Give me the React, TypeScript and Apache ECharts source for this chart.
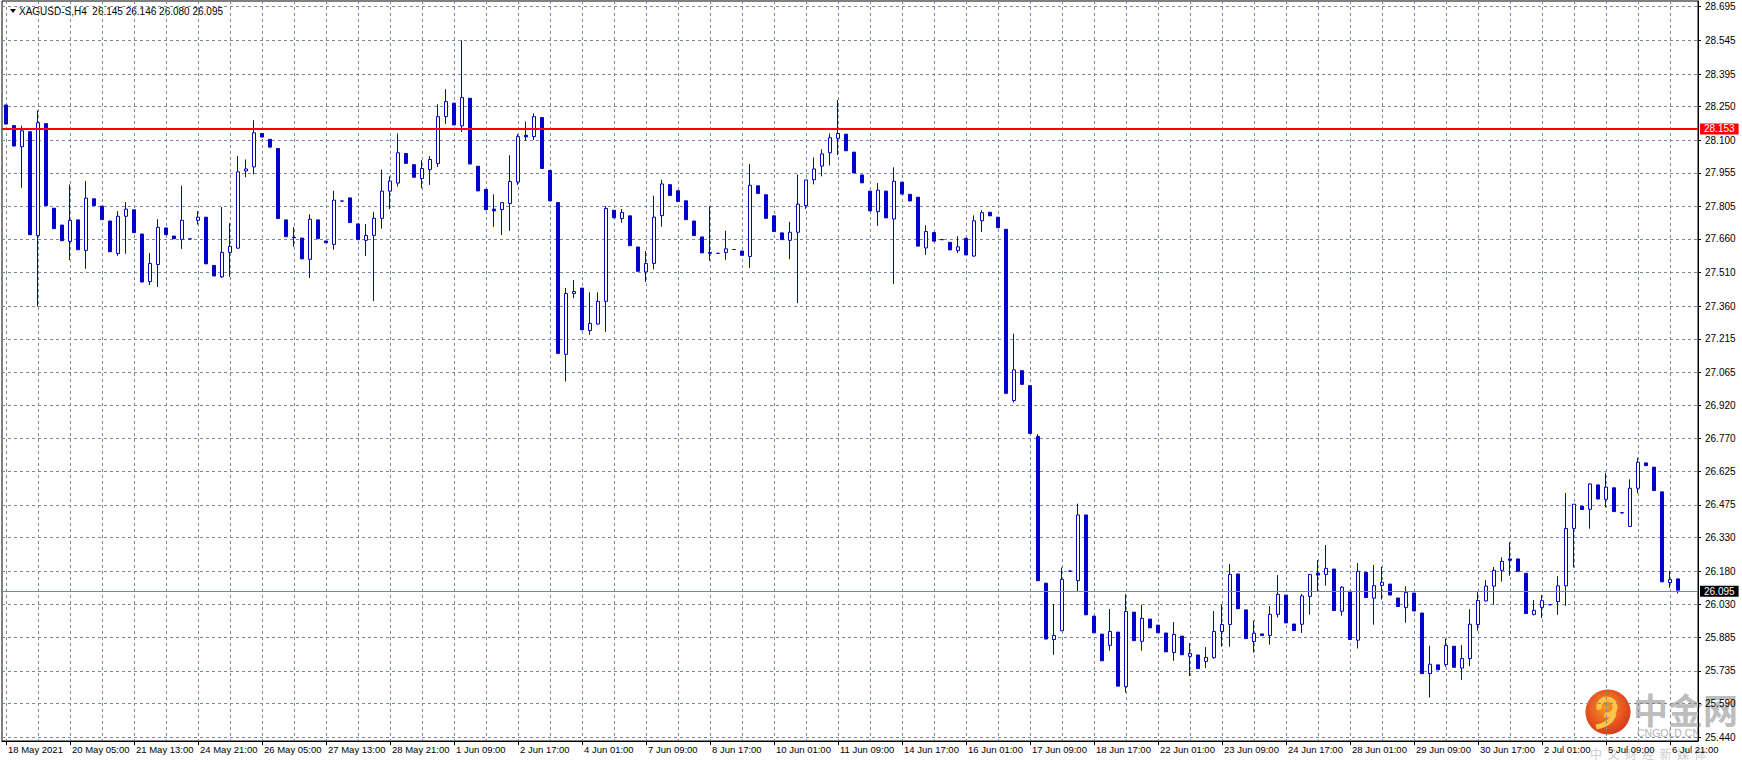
import React, { useEffect, useRef } from 'react';
import * as echarts from 'echarts';

const symbolName = 'XAGUSD-S,H4';

const tickLabels = [
  '18 May 2021', '20 May 05:00', '21 May 13:00', '24 May 21:00', '26 May 05:00', '27 May 13:00',
  '28 May 21:00', '1 Jun 09:00', '2 Jun 17:00', '4 Jun 01:00', '7 Jun 09:00', '8 Jun 17:00',
  '10 Jun 01:00', '11 Jun 09:00', '14 Jun 17:00', '16 Jun 01:00', '17 Jun 09:00', '18 Jun 17:00',
  '22 Jun 01:00', '23 Jun 09:00', '24 Jun 17:00', '28 Jun 01:00', '29 Jun 09:00', '30 Jun 17:00',
  '2 Jul 01:00', '5 Jul 09:00', '6 Jul 21:00',
];

const priceTicks = [
  28.695, 28.545, 28.395, 28.25, 28.1, 27.955, 27.805, 27.66, 27.51, 27.36, 27.215, 27.065,
  26.92, 26.77, 26.625, 26.475, 26.33, 26.18, 26.03, 25.885, 25.735, 25.59, 25.44,
];

const opens = [
  28.257, 28.165, 28.071, 28.138, 27.675, 28.174, 27.797, 27.722, 27.649, 27.745,
  27.609, 27.839, 27.806, 27.740, 27.595, 27.761, 27.790, 27.682, 27.470, 27.546,
  27.709, 27.673, 27.658, 27.660, 27.743, 27.757, 27.542, 27.491, 27.600, 27.619,
  27.963, 27.981, 28.130, 28.104, 28.063, 27.745, 27.667, 27.664, 27.569, 27.745,
  27.651, 27.636, 27.829, 27.843, 27.727, 27.654, 27.676, 27.752, 27.873, 27.909,
  28.041, 27.991, 27.929, 27.969, 27.996, 28.205, 28.265, 28.164, 28.287, 27.984,
  27.881, 27.793, 27.791, 27.818, 27.914, 28.122, 28.116, 28.201, 27.965, 27.822,
  27.146, 27.417, 27.441, 27.252, 27.281, 27.382, 27.788, 27.751, 27.763, 27.624,
  27.513, 27.551, 27.764, 27.902, 27.875, 27.830, 27.740, 27.669, 27.600, 27.596,
  27.600, 27.613, 27.606, 27.582, 27.897, 27.857, 27.763, 27.687, 27.654, 27.690,
  27.809, 27.924, 27.985, 28.044, 28.108, 28.127, 28.047, 27.945, 27.873, 27.782,
  27.873, 27.749, 27.913, 27.859, 27.846, 27.620, 27.689, 27.657, 27.645, 27.608,
  27.663, 27.584, 27.741, 27.779, 27.757, 27.703, 26.940, 27.073, 27.006, 26.780,
  26.126, 25.875, 25.914, 26.180, 26.137, 26.430, 25.979, 25.899, 25.849, 25.908,
  25.665, 25.997, 25.867, 25.966, 25.939, 25.904, 25.817, 25.890, 25.800, 25.806,
  25.777, 25.794, 25.911, 25.942, 26.167, 26.007, 25.866, 25.900, 25.893, 25.987,
  26.073, 25.944, 25.943, 26.067, 26.171, 26.165, 26.189, 26.001, 26.090, 25.872,
  26.174, 26.059, 26.116, 26.122, 26.060, 26.017, 26.082, 25.993, 25.723, 25.762,
  25.763, 25.845, 25.748, 25.790, 25.942, 26.047, 26.113, 26.183, 26.234, 26.234,
  26.170, 25.987, 26.018, 26.030, 26.044, 26.114, 26.370, 26.469, 26.455, 26.564,
  26.500, 26.551, 26.440, 26.379, 26.549, 26.662, 26.643, 26.533, 26.129, 26.145,
];

const highs = [
  28.257, 28.165, 28.165, 28.138, 28.232, 28.174, 27.797, 27.722, 27.903, 27.745,
  27.918, 27.839, 27.806, 27.740, 27.784, 27.824, 27.790, 27.682, 27.597, 27.748,
  27.709, 27.673, 27.897, 27.660, 27.784, 27.757, 27.542, 27.802, 27.730, 28.029,
  28.014, 28.189, 28.130, 28.104, 28.063, 27.745, 27.712, 27.664, 27.770, 27.745,
  27.651, 27.875, 27.830, 27.843, 27.727, 27.727, 27.781, 27.969, 27.939, 28.130,
  28.041, 27.991, 28.011, 28.029, 28.260, 28.327, 28.265, 28.545, 28.287, 27.984,
  27.881, 27.859, 27.822, 28.033, 28.127, 28.183, 28.220, 28.201, 27.965, 27.822,
  27.442, 27.477, 27.441, 27.422, 27.422, 27.806, 27.788, 27.793, 27.763, 27.624,
  27.606, 27.853, 27.924, 27.902, 27.875, 27.830, 27.740, 27.669, 27.806, 27.597,
  27.696, 27.614, 27.606, 27.994, 27.897, 27.857, 27.763, 27.687, 27.736, 27.947,
  27.923, 28.023, 28.059, 28.130, 28.280, 28.127, 28.047, 27.945, 27.873, 27.909,
  27.873, 27.979, 27.913, 27.859, 27.846, 27.721, 27.689, 27.657, 27.645, 27.672,
  27.663, 27.765, 27.788, 27.779, 27.757, 27.703, 27.238, 27.073, 27.006, 26.790,
  26.126, 26.033, 26.196, 26.180, 26.480, 26.430, 25.979, 25.899, 26.011, 25.908,
  26.077, 25.997, 26.030, 25.966, 25.939, 25.904, 25.953, 25.890, 25.859, 25.806,
  25.841, 26.002, 26.030, 26.211, 26.167, 26.007, 25.959, 25.900, 26.024, 26.162,
  26.073, 25.944, 26.078, 26.165, 26.229, 26.296, 26.189, 26.113, 26.090, 26.216,
  26.174, 26.207, 26.199, 26.122, 26.060, 26.112, 26.082, 25.993, 25.847, 25.762,
  25.879, 25.845, 25.850, 26.010, 26.090, 26.140, 26.198, 26.241, 26.308, 26.234,
  26.170, 26.051, 26.073, 26.030, 26.157, 26.528, 26.478, 26.469, 26.571, 26.564,
  26.618, 26.551, 26.441, 26.589, 26.685, 26.662, 26.643, 26.533, 26.181, 26.146,
];

const lows = [
  28.172, 28.074, 27.888, 27.679, 27.359, 27.809, 27.706, 27.652, 27.566, 27.612,
  27.527, 27.809, 27.746, 27.603, 27.585, 27.594, 27.688, 27.468, 27.455, 27.446,
  27.679, 27.661, 27.616, 27.660, 27.724, 27.549, 27.495, 27.486, 27.491, 27.616,
  27.935, 27.948, 28.114, 28.069, 27.751, 27.670, 27.625, 27.571, 27.486, 27.661,
  27.643, 27.612, 27.828, 27.733, 27.657, 27.584, 27.383, 27.706, 27.793, 27.894,
  27.997, 27.935, 27.886, 27.901, 27.981, 28.173, 28.168, 28.137, 27.994, 27.874,
  27.790, 27.714, 27.678, 27.696, 27.901, 28.098, 28.101, 27.974, 27.830, 27.150,
  27.025, 27.396, 27.255, 27.233, 27.278, 27.246, 27.754, 27.732, 27.630, 27.516,
  27.468, 27.525, 27.715, 27.854, 27.827, 27.746, 27.675, 27.598, 27.563, 27.595,
  27.567, 27.612, 27.587, 27.531, 27.863, 27.752, 27.693, 27.657, 27.570, 27.374,
  27.794, 27.903, 27.939, 27.988, 28.034, 28.053, 27.954, 27.910, 27.785, 27.718,
  27.754, 27.459, 27.860, 27.829, 27.628, 27.589, 27.650, 27.657, 27.611, 27.597,
  27.589, 27.580, 27.691, 27.763, 27.710, 26.972, 26.931, 27.012, 26.793, 26.137,
  25.877, 25.807, 25.914, 26.180, 26.088, 25.985, 25.905, 25.780, 25.825, 25.667,
  25.639, 25.870, 25.825, 25.927, 25.905, 25.820, 25.780, 25.807, 25.712, 25.745,
  25.748, 25.789, 25.843, 25.843, 26.012, 25.879, 25.817, 25.893, 25.852, 25.973,
  25.949, 25.915, 25.904, 25.986, 26.087, 26.115, 26.004, 25.981, 25.875, 25.835,
  26.062, 25.941, 26.053, 26.073, 26.022, 25.950, 26.002, 25.723, 25.617, 25.740,
  25.753, 25.751, 25.695, 25.756, 25.914, 26.045, 26.030, 26.133, 26.159, 26.179,
  25.991, 25.982, 25.971, 26.030, 25.985, 26.025, 26.196, 26.454, 26.369, 26.501,
  26.464, 26.445, 26.438, 26.379, 26.527, 26.650, 26.539, 26.132, 26.105, 26.080,
];

const closes = [
  28.172, 28.074, 28.142, 27.679, 28.178, 27.809, 27.706, 27.652, 27.743, 27.612,
  27.842, 27.809, 27.746, 27.603, 27.761, 27.793, 27.688, 27.468, 27.551, 27.712,
  27.679, 27.661, 27.743, 27.660, 27.757, 27.549, 27.495, 27.600, 27.627, 27.959,
  27.972, 28.133, 28.114, 28.069, 27.751, 27.670, 27.665, 27.571, 27.748, 27.661,
  27.643, 27.833, 27.829, 27.733, 27.657, 27.676, 27.752, 27.873, 27.918, 28.044,
  27.997, 27.935, 27.974, 28.014, 28.205, 28.272, 28.168, 28.290, 27.994, 27.874,
  27.790, 27.785, 27.822, 27.916, 28.116, 28.115, 28.205, 27.974, 27.830, 27.150,
  27.417, 27.426, 27.255, 27.284, 27.382, 27.796, 27.754, 27.778, 27.630, 27.516,
  27.551, 27.757, 27.905, 27.854, 27.827, 27.746, 27.675, 27.598, 27.596, 27.596,
  27.616, 27.613, 27.587, 27.899, 27.863, 27.752, 27.693, 27.657, 27.690, 27.815,
  27.923, 27.972, 28.039, 28.111, 28.130, 28.053, 27.954, 27.910, 27.785, 27.877,
  27.754, 27.917, 27.860, 27.829, 27.628, 27.693, 27.650, 27.657, 27.611, 27.625,
  27.589, 27.741, 27.777, 27.763, 27.710, 26.972, 27.077, 27.012, 26.793, 26.137,
  25.877, 25.893, 26.143, 26.180, 26.430, 25.985, 25.905, 25.780, 25.911, 25.667,
  26.000, 25.870, 25.969, 25.927, 25.905, 25.820, 25.898, 25.807, 25.813, 25.745,
  25.795, 25.911, 25.942, 26.165, 26.012, 25.879, 25.903, 25.893, 25.987, 26.076,
  25.949, 25.915, 26.069, 26.165, 26.162, 26.192, 26.004, 26.108, 25.875, 26.179,
  26.062, 26.115, 26.130, 26.073, 26.022, 26.085, 26.002, 25.723, 25.765, 25.740,
  25.848, 25.751, 25.790, 25.943, 26.049, 26.113, 26.183, 26.223, 26.228, 26.179,
  25.991, 26.005, 26.048, 26.030, 26.114, 26.370, 26.478, 26.454, 26.568, 26.501,
  26.554, 26.445, 26.439, 26.549, 26.665, 26.650, 26.539, 26.132, 26.142, 26.095,
];

const levelLine = 28.153;
const bidPrice = 26.095;
const barsPerLabel = 8;
const emptyBarsRight = 2;

const BLUE = '#0000CD';
const GRID = '#778899';
const FONT = "'Liberation Sans', Arial, sans-serif";
const CJK = "'Noto Sans CJK SC', sans-serif";

function buildOption() {
  const n = opens.length;
  const categories: string[] = [];
  for (let i = 0; i < n + emptyBarsRight; i++) {
    const li = i / barsPerLabel;
    categories.push(i % barsPerLabel === 0 && tickLabels[li] ? tickLabels[li] : '');
  }
  const data = opens.map((o, i) => [o, closes[i], lows[i], highs[i]]);
  const last = n - 1;
  const headText = `${symbolName}  ${opens[last].toFixed(3)} ${highs[last].toFixed(3)} ${lows[last].toFixed(3)} ${closes[last].toFixed(3)}`;

  return {
    animation: false,
    backgroundColor: '#ffffff',
    textStyle: { fontFamily: FONT },
    grid: {
      left: 2, top: 1, width: 1696, height: 740,
      show: true, borderColor: '#000000', borderWidth: 1, backgroundColor: 'transparent',
    },
    xAxis: {
      type: 'category',
      data: categories,
      boundaryGap: true,
      axisLine: { show: true, lineStyle: { color: '#000000', width: 1 } },
      axisTick: { show: true, interval: barsPerLabel - 1, alignWithLabel: true, length: 4, lineStyle: { color: '#000000' } },
      axisLabel: {
        interval: barsPerLabel - 1, align: 'left', margin: 3, color: '#000000',
        fontSize: 9.5, fontFamily: FONT, padding: [0, 0, 0, 2],
      },
      splitLine: {
        show: true, interval: 3, alignWithLabel: true,
        lineStyle: { color: GRID, width: 1, type: [3, 3] },
      },
    },
    yAxis: {
      type: 'value',
      position: 'right',
      min: 25.4227,
      max: 28.7204,
      axisLine: { show: true, lineStyle: { color: '#000000' } },
      axisTick: { show: true, length: 3, customValues: priceTicks, lineStyle: { color: '#000000' } },
      axisLabel: {
        customValues: priceTicks,
        formatter: (v: number) => v.toFixed(3),
        margin: 7, color: '#000000', fontSize: 10, fontFamily: FONT,
      },
      splitLine: { show: true, lineStyle: { color: GRID, width: 1, type: [3, 3] } },
    },
    graphic: [
      {
        type: 'polygon', left: 10, top: 9, silent: true,
        shape: { points: [[0, 0], [6, 0], [3, 4]] },
        style: { fill: '#000000' },
      },
      {
        type: 'text', left: 19, top: 6, silent: true,
        style: { text: headText, fill: '#000000', fontSize: 10, fontFamily: FONT },
      },
      {
        type: 'group', silent: true,
        children: [
          {
            type: 'circle', shape: { cx: 1608, cy: 712, r: 22.5 },
            style: {
              fill: new echarts.graphic.RadialGradient(0.45, 0.4, 0.7, [
                { offset: 0, color: '#f39a2c' },
                { offset: 0.6, color: '#e5521f' },
                { offset: 1, color: '#c9301a' },
              ]),
            },
          },
          {
            type: 'arc', shape: { cx: 1607, cy: 707, r: 8, startAngle: Math.PI * 0.9, endAngle: Math.PI * 2.6 },
            style: { stroke: '#f9c64a', lineWidth: 5, fill: 'none' },
          },
          {
            type: 'bezierCurve',
            shape: { x1: 1614, y1: 713, cpx1: 1612, cpy1: 724, x2: 1596, y2: 727 },
            style: { stroke: '#f9c64a', lineWidth: 5, fill: 'none' },
          },
          {
            type: 'text', x: 1633, y: 691,
            style: {
              text: '中金网', fill: '#bdbdbd', fontSize: 35, fontWeight: 'bold',
              fontFamily: CJK, verticalAlign: 'top', align: 'left',
            },
          },
          {
            type: 'text', x: 1637, y: 727,
            style: {
              text: 'CNGOLD.CN', fill: '#b4b4b4', fontSize: 10.5, fontFamily: FONT,
              verticalAlign: 'top', align: 'left',
            },
          },
          {
            type: 'text', x: 1590, y: 747,
            style: {
              text: '中  文  财  经  新  媒  体', fill: '#cdcdcd', fontSize: 12,
              fontFamily: CJK, verticalAlign: 'top', align: 'left',
            },
          },
        ],
      },
    ],
    series: [
      {
        type: 'candlestick',
        data,
        barWidth: 3,
        itemStyle: {
          color: '#ffffff',
          color0: BLUE,
          borderColor: BLUE,
          borderColor0: BLUE,
          borderWidth: 1,
        },
        markLine: {
          silent: true,
          symbol: ['none', 'none'],
          animation: false,
          data: [
            {
              yAxis: levelLine,
              lineStyle: { color: '#ff0000', width: 2, type: 'solid' },
              label: {
                show: true, position: 'end', distance: 2, formatter: levelLine.toFixed(3),
                color: '#ffffff', backgroundColor: '#ff0000', padding: [1, 4, 0, 4],
                fontSize: 10, fontFamily: FONT,
              },
            },
            {
              yAxis: bidPrice,
              lineStyle: { color: GRID, width: 1, type: 'solid' },
              label: {
                show: true, position: 'end', distance: 2, formatter: bidPrice.toFixed(3),
                color: '#ffffff', backgroundColor: '#000000', padding: [1, 4, 0, 4],
                fontSize: 10, fontFamily: FONT,
              },
            },
          ],
        },
      },
    ],
  };
}

export default function App() {
  const ref = useRef<HTMLDivElement>(null);
  useEffect(() => {
    if (!ref.current) return;
    const chart = echarts.init(ref.current, null, { renderer: 'svg' });
    chart.setOption(buildOption() as any);
    return () => chart.dispose();
  }, []);
  return (
    <div
      ref={ref}
      style={{ position: 'absolute', left: 0, top: 0, width: 1742, height: 762, background: '#ffffff' }}
    />
  );
}
